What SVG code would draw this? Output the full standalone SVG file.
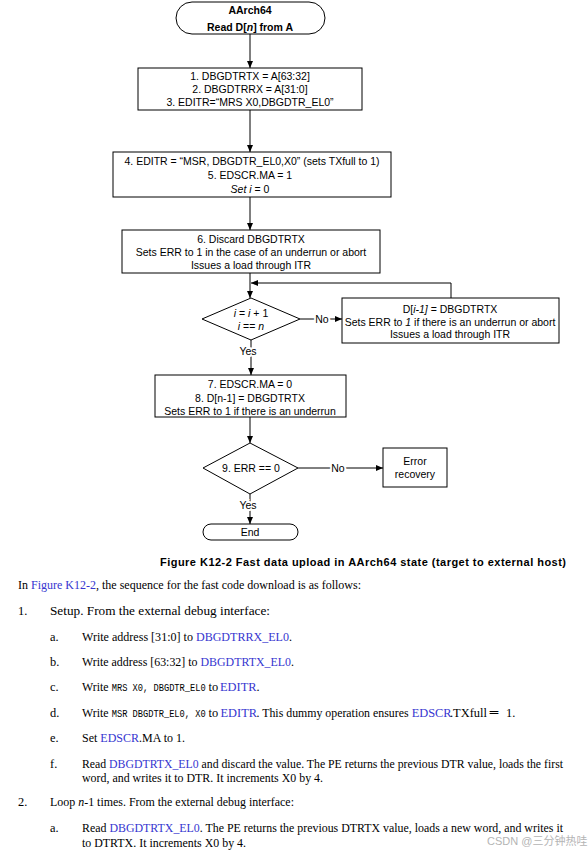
<svg xmlns="http://www.w3.org/2000/svg" width="588" height="850" viewBox="0 0 588 850">
<defs>
<marker id="ah" markerWidth="7" markerHeight="6" refX="7" refY="3" orient="auto" markerUnits="userSpaceOnUse">
<path d="M0,0 L7,3 L0,6 z" fill="#000"/>
</marker>
<style>
.sh{fill:#fff;stroke:#000;stroke-width:1}
.ft{font-family:"Liberation Sans",Arial,sans-serif;font-size:10.5px;fill:#000;text-anchor:middle}
.b{font-weight:bold}
.i{font-style:italic}
.cn{fill:none;stroke:#000;stroke-width:1}
.lb{font-family:"Liberation Sans",Arial,sans-serif;font-size:10.5px;fill:#000;text-anchor:middle;stroke:#fff;stroke-width:4;paint-order:stroke}
.bt{font-family:"Liberation Serif","Times New Roman",serif;font-size:12.4px;fill:#000}
.ln{fill:#3636d0}
.mo{font-family:"Liberation Mono","Courier New",monospace;font-size:10px}
.cap{font-family:"Liberation Sans",Arial,sans-serif;font-size:11px;font-weight:bold;fill:#000;text-anchor:end}
</style>
</defs>
<rect width="588" height="850" fill="#fff"/>

<g id="connectors">
<path class="cn" d="M250,34 V68" marker-end="url(#ah)"/>
<path class="cn" d="M250,110 V152" marker-end="url(#ah)"/>
<path class="cn" d="M250,197 V230" marker-end="url(#ah)"/>
<path class="cn" d="M250,273 V298" marker-end="url(#ah)"/>
<path class="cn" d="M451,298 V283 H251" marker-end="url(#ah)"/>
<path class="cn" d="M300,319 H342" marker-end="url(#ah)"/>
<path class="cn" d="M251,340 V375" marker-end="url(#ah)"/>
<path class="cn" d="M250,417 V443" marker-end="url(#ah)"/>
<path class="cn" d="M298,468 H383" marker-end="url(#ah)"/>
<path class="cn" d="M250,494 V524" marker-end="url(#ah)"/>
<text class="lb" x="322" y="323">No</text>
<text class="lb" x="248" y="355">Yes</text>
<text class="lb" x="338" y="472">No</text>
<text class="lb" x="248" y="509">Yes</text>
</g>

<g id="start">
<rect class="sh" x="176" y="2" width="149" height="32" rx="16" ry="16"/>
<text class="ft b" x="250" y="14">AArch64</text>
<text class="ft b" x="250" y="31">Read D[<tspan class="i">n</tspan>] from A</text>
</g>

<g id="step1">
<rect class="sh" x="138" y="68" width="224" height="42"/>
<text class="ft" x="250" y="80">1. DBGDTRTX = A[63:32]</text>
<text class="ft" x="250" y="93">2. DBGDTRRX = A[31:0]</text>
<text class="ft" x="250" y="106">3. EDITR=“MRS X0,DBGDTR_EL0”</text>
</g>

<g id="step2">
<rect class="sh" x="113" y="152" width="278" height="45"/>
<text class="ft" x="252" y="165">4. EDITR = “MSR, DBGDTR_EL0,X0” (sets TXfull to 1)</text>
<text class="ft" x="250" y="179">5. EDSCR.MA = 1</text>
<text class="ft i" x="250" y="193">Set i <tspan font-style="normal">= 0</tspan></text>
</g>

<g id="step3">
<rect class="sh" x="122" y="230" width="258" height="43"/>
<text class="ft" x="251" y="243">6. Discard DBGDTRTX</text>
<text class="ft" x="251" y="256">Sets ERR to 1 in the case of an underrun or abort</text>
<text class="ft" x="251" y="269">Issues a load through ITR</text>
</g>

<g id="loopcheck">
<path class="sh" d="M251,298 L300,319 L251,340 L202,319 z"/>
<text class="ft" x="251" y="317"><tspan class="i">i</tspan> = <tspan class="i">i</tspan> + 1</text>
<text class="ft" x="251" y="330"><tspan class="i">i</tspan> == <tspan class="i">n</tspan></text>
</g>

<g id="loopbody">
<rect class="sh" x="342" y="298" width="217" height="45"/>
<text class="ft" x="450" y="313">D[<tspan class="i">i-1]</tspan> = DBGDTRTX</text>
<text class="ft" x="450" y="326">Sets ERR to <tspan class="i">1</tspan> if there is an underrun or abort</text>
<text class="ft" x="450" y="338">Issues a load through ITR</text>
</g>

<g id="step4">
<rect class="sh" x="155" y="375" width="191" height="42"/>
<text class="ft" x="250" y="388">7. EDSCR.MA = 0</text>
<text class="ft" x="250" y="402">8. D[n-1] = DBGDTRTX</text>
<text class="ft" x="250" y="415">Sets ERR to 1 if there is an underrun</text>
</g>

<g id="errcheck">
<path class="sh" d="M250,443 L298,468 L250,494 L203,468 z"/>
<text class="ft" x="251" y="472">9. ERR == 0</text>
</g>

<g id="recovery">
<rect class="sh" x="383" y="448" width="64" height="39"/>
<text class="ft" x="415" y="465">Error</text>
<text class="ft" x="415" y="478">recovery</text>
</g>

<g id="end">
<rect class="sh" x="203" y="524" width="95" height="16" rx="8" ry="8"/>
<text class="ft" x="250" y="536">End</text>
</g>

<text class="cap" x="566" y="566" textLength="406">Figure K12-2 Fast data upload in AArch64 state (target to external host)</text>

<g id="body">
<text class="bt" x="18" y="589" textLength="343" lengthAdjust="spacingAndGlyphs">In <tspan class="ln">Figure K12-2</tspan>, the sequence for the fast code download is as follows:</text>
<text class="bt" x="18" y="615">1.</text>
<text class="bt" x="50" y="615" textLength="220" lengthAdjust="spacingAndGlyphs">Setup. From the external debug interface:</text>
<text class="bt" x="50" y="640.5">a.</text>
<text class="bt" x="82" y="640.5" textLength="210" lengthAdjust="spacingAndGlyphs">Write address [31:0] to <tspan class="ln">DBGDTRRX_EL0</tspan>.</text>
<text class="bt" x="50" y="666">b.</text>
<text class="bt" x="82" y="666" textLength="212" lengthAdjust="spacingAndGlyphs">Write address [63:32] to <tspan class="ln">DBGDTRTX_EL0</tspan>.</text>
<text class="bt" x="50" y="691">c.</text>
<text class="bt" x="82" y="691"><tspan textLength="26.5" lengthAdjust="spacingAndGlyphs">Write</tspan><tspan class="mo" x="111.7" textLength="94" lengthAdjust="spacingAndGlyphs">MRS X0, DBGDTR_EL0</tspan><tspan x="208.5">to</tspan><tspan class="ln" x="220">EDITR</tspan>.</text>
<text class="bt" x="50" y="716.5">d.</text>
<text class="bt" x="82" y="716.5"><tspan textLength="26.5" lengthAdjust="spacingAndGlyphs">Write</tspan><tspan class="mo" x="111.7" textLength="94" lengthAdjust="spacingAndGlyphs">MSR DBGDTR_EL0, X0</tspan><tspan x="208.5">to</tspan><tspan class="ln" x="220.5">EDITR</tspan><tspan x="256.5" textLength="152" lengthAdjust="spacingAndGlyphs">. This dummy operation ensures</tspan><tspan class="ln" x="411.7">EDSCR</tspan><tspan x="450" textLength="37" lengthAdjust="spacingAndGlyphs">.TXfull</tspan><tspan x="489" font-weight="bold" letter-spacing="-4">==</tspan><tspan x="506">1.</tspan></text>
<text class="bt" x="50" y="742">e.</text>
<text class="bt" x="82" y="742" textLength="103" lengthAdjust="spacingAndGlyphs">Set <tspan class="ln">EDSCR</tspan>.MA to 1.</text>
<text class="bt" x="50" y="767.5">f.</text>
<text class="bt" x="82" y="767.5" textLength="481" lengthAdjust="spacingAndGlyphs">Read <tspan class="ln">DBGDTRTX_EL0</tspan> and discard the value. The PE returns the previous DTR value, loads the first</text>
<text class="bt" x="82" y="782" textLength="241" lengthAdjust="spacingAndGlyphs">word, and writes it to DTR. It increments X0 by 4.</text>
<text class="bt" x="18" y="806">2.</text>
<text class="bt" x="50" y="806" textLength="244" lengthAdjust="spacingAndGlyphs">Loop <tspan class="i">n</tspan>-1 times. From the external debug interface:</text>
<text class="bt" x="50" y="832">a.</text>
<text class="bt" x="82" y="832" textLength="481" lengthAdjust="spacingAndGlyphs">Read <tspan class="ln">DBGDTRTX_EL0</tspan>. The PE returns the previous DTRTX value, loads a new word, and writes it</text>
<text class="bt" x="82" y="846.5" textLength="164" lengthAdjust="spacingAndGlyphs">to DTRTX. It increments X0 by 4.</text>
</g>

<text x="487" y="845" font-family="'Liberation Sans','Noto Sans CJK SC',sans-serif" font-size="11" fill="#b4b4b4">CSDN @三分钟热哇</text>
</svg>
